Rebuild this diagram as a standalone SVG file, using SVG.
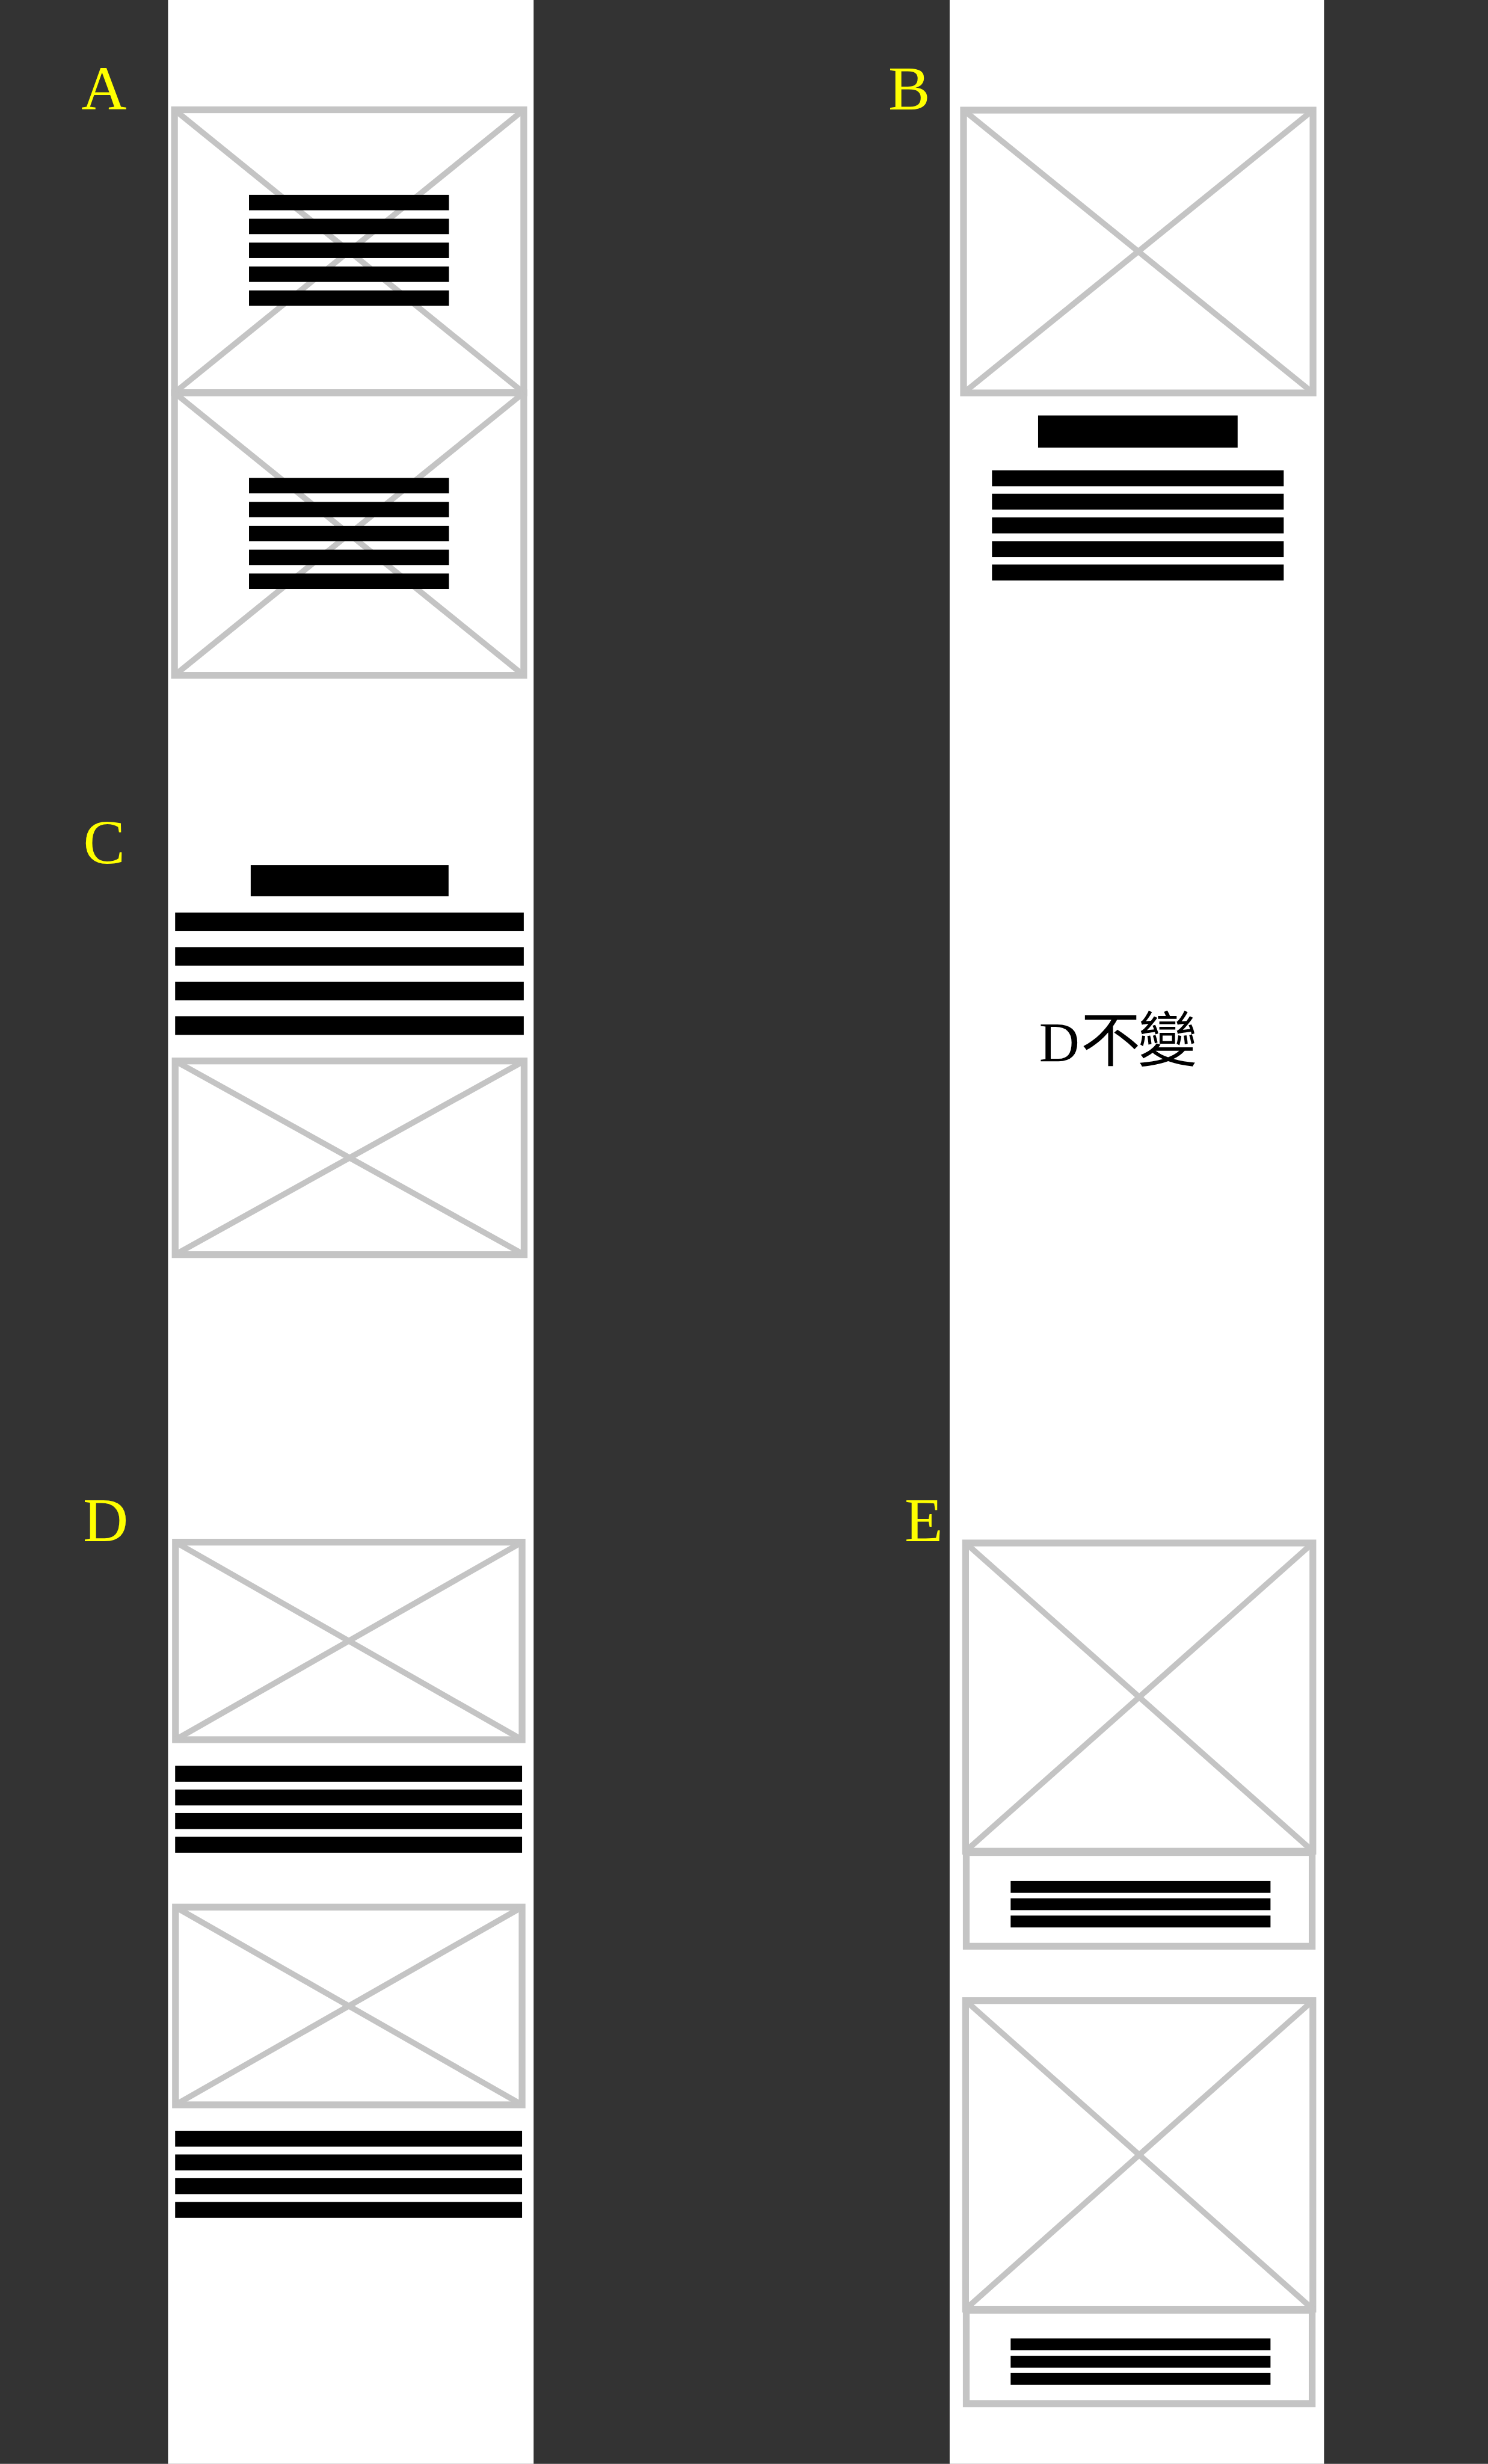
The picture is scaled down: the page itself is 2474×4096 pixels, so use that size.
<svg xmlns="http://www.w3.org/2000/svg" width="2474" height="4096" viewBox="0 0 2474 4096">
<style>
.bg{fill:#333333}
.col{fill:#ffffff}
.frame{fill:none;stroke:#c4c4c4;stroke-width:20}
.diag{stroke:#c4c4c4;stroke-width:17;fill:none}
.bar{fill:#000000}
.label{font-family:"Liberation Serif","Noto Sans CJK TC",serif;font-size:185px;fill:#ffff00}
.note{font-family:"Liberation Serif","Noto Sans CJK TC",serif;font-size:176px;fill:#000000}
</style>
<g transform="scale(0.5633)">
<rect class="bg" x="0" y="0" width="4392" height="7271"/>
<rect class="col" x="496" y="0" width="1079" height="7271"/>
<rect class="col" x="2803" y="0" width="1105" height="7271"/>

<g id="label-A"><text class="label" x="240" y="323">A</text></g>
<g id="label-B"><text class="label" x="2622" y="323">B</text></g>
<g id="label-C"><text class="label" x="246" y="2548">C</text></g>
<g id="label-D"><text class="label" x="245" y="4548">D</text></g>
<g id="label-E"><text class="label" x="2670" y="4548">E</text></g>

<g id="A1">
<rect class="frame" x="515" y="324" width="1031" height="835"/>
<line class="diag" x1="515" y1="324" x2="1546" y2="1159"/>
<line class="diag" x1="1546" y1="324" x2="515" y2="1159"/>
<rect class="bar" x="735" y="575" width="590" height="45.5"/>
<rect class="bar" x="735" y="645.5" width="590" height="45.5"/>
<rect class="bar" x="735" y="716" width="590" height="45.5"/>
<rect class="bar" x="735" y="786.5" width="590" height="45.5"/>
<rect class="bar" x="735" y="857" width="590" height="45.5"/>
</g>
<g id="A2">
<rect class="frame" x="515" y="1159" width="1031" height="834"/>
<line class="diag" x1="515" y1="1159" x2="1546" y2="1993"/>
<line class="diag" x1="1546" y1="1159" x2="515" y2="1993"/>
<rect class="bar" x="735" y="1410.5" width="590" height="45.5"/>
<rect class="bar" x="735" y="1481" width="590" height="45.5"/>
<rect class="bar" x="735" y="1551.5" width="590" height="45.5"/>
<rect class="bar" x="735" y="1622" width="590" height="45.5"/>
<rect class="bar" x="735" y="1692.5" width="590" height="45.5"/>
</g>

<g id="B">
<rect class="frame" x="2844" y="325" width="1031.5" height="834.5"/>
<line class="diag" x1="2844" y1="325" x2="3875.5" y2="1159.5"/>
<line class="diag" x1="3875.5" y1="325" x2="2844" y2="1159.5"/>
<rect class="bar" x="3064" y="1226" width="589" height="95"/>
<rect class="bar" x="2928" y="1388" width="861" height="47"/>
<rect class="bar" x="2928" y="1457" width="861" height="47"/>
<rect class="bar" x="2928" y="1527" width="861" height="47"/>
<rect class="bar" x="2928" y="1597" width="861" height="47"/>
<rect class="bar" x="2928" y="1666" width="861" height="47"/>
</g>

<g id="C">
<rect class="bar" x="740" y="2553" width="584" height="92"/>
<rect class="bar" x="517" y="2693" width="1029" height="55"/>
<rect class="bar" x="517" y="2795" width="1029" height="55"/>
<rect class="bar" x="517" y="2897" width="1029" height="55"/>
<rect class="bar" x="517" y="2999" width="1029" height="55"/>
<rect class="frame" x="517" y="3131" width="1030" height="571.5"/>
<line class="diag" x1="517" y1="3131" x2="1547" y2="3702.5"/>
<line class="diag" x1="1547" y1="3131" x2="517" y2="3702.5"/>
</g>

<g id="D-unchanged"><text class="note" y="3132"><tspan x="3067" font-size="165">D</tspan><tspan x="3190">不</tspan><tspan x="3358">變</tspan></text></g>

<g id="D1">
<rect class="frame" x="518" y="4551" width="1023" height="583"/>
<line class="diag" x1="518" y1="4551" x2="1541" y2="5134"/>
<line class="diag" x1="1541" y1="4551" x2="518" y2="5134"/>
<rect class="bar" x="517" y="5211" width="1024" height="47"/>
<rect class="bar" x="517" y="5281" width="1024" height="47"/>
<rect class="bar" x="517" y="5350.5" width="1024" height="47"/>
<rect class="bar" x="517" y="5420.5" width="1024" height="47"/>
</g>
<g id="D2">
<rect class="frame" x="518" y="5628" width="1023" height="583.5"/>
<line class="diag" x1="518" y1="5628" x2="1541" y2="6211.5"/>
<line class="diag" x1="1541" y1="5628" x2="518" y2="6211.5"/>
<rect class="bar" x="517" y="6288" width="1024" height="47"/>
<rect class="bar" x="517" y="6358" width="1024" height="47"/>
<rect class="bar" x="517" y="6428" width="1024" height="47"/>
<rect class="bar" x="517" y="6498" width="1024" height="47"/>
</g>

<g id="E1">
<rect class="frame" x="2850" y="4553.5" width="1025" height="909.5"/>
<line class="diag" x1="2850" y1="4553.5" x2="3875" y2="5463"/>
<line class="diag" x1="3875" y1="4553.5" x2="2850" y2="5463"/>
<rect class="frame" x="2852" y="5467" width="1021" height="276.5"/>
<rect class="bar" x="2983" y="5551" width="767" height="35"/>
<rect class="bar" x="2983" y="5602" width="767" height="35"/>
<rect class="bar" x="2983" y="5653" width="767" height="35"/>
</g>
<g id="E2">
<rect class="frame" x="2850" y="5904" width="1025" height="910.5"/>
<line class="diag" x1="2850" y1="5904" x2="3875" y2="6814.5"/>
<line class="diag" x1="3875" y1="5904" x2="2850" y2="6814.5"/>
<rect class="frame" x="2852" y="6818" width="1021" height="275.5"/>
<rect class="bar" x="2983" y="6901" width="767" height="35"/>
<rect class="bar" x="2983" y="6952" width="767" height="35"/>
<rect class="bar" x="2983" y="7003" width="767" height="35"/>
</g>

<g id="connectors"/>
</g>
</svg>
